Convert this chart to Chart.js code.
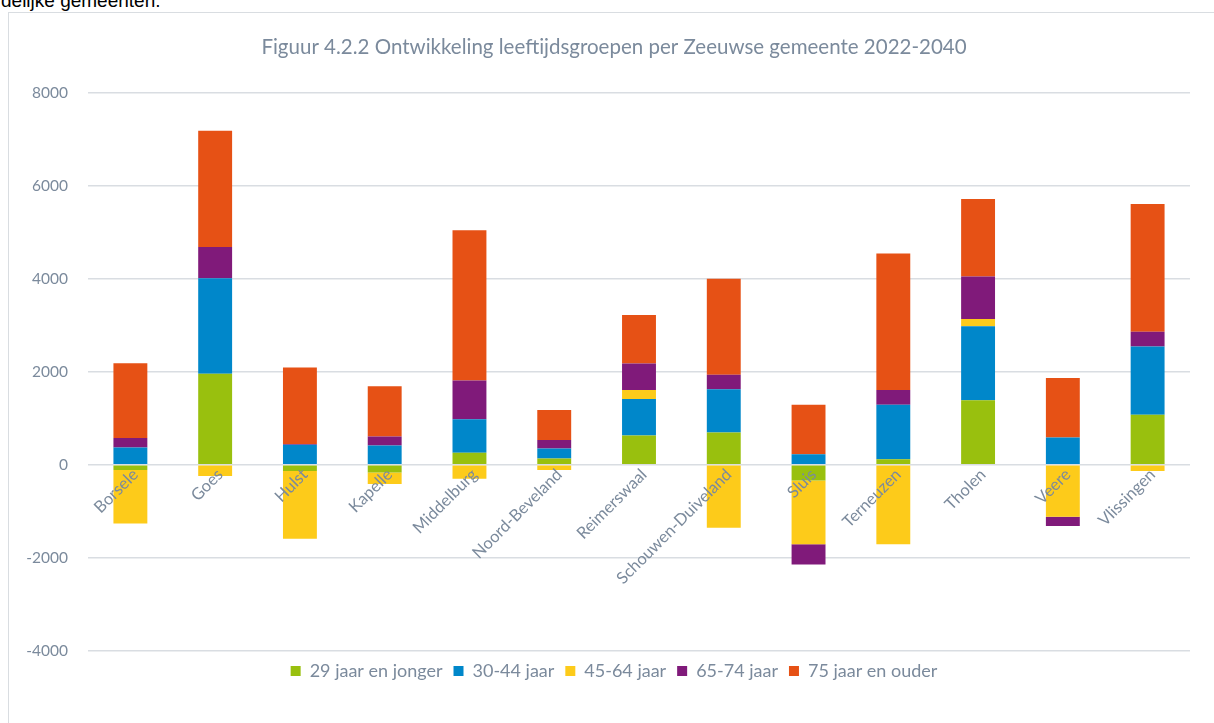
<!DOCTYPE html>
<html>
<head>
<meta charset="utf-8">
<script src="https://cdn.jsdelivr.net/npm/chart.js@4/dist/chart.umd.min.js"></script>
<style>
  html, body { margin: 0; padding: 0; background: #fff; overflow: hidden; }
  body { width: 1214px; height: 723px; position: relative; }
  #intro {
    position: absolute; left: 1px; top: -10px;
    font-family: "Liberation Sans", Arial, sans-serif; font-size: 19px; line-height: 22px; color: #000;
  }
  #frame {
    position: absolute; left: 8px; top: 12px; width: 1220px; height: 720px;
    border-left: 1px solid #d9dde1; border-top: 1px solid #d9dde1;
  }
  #wrap { position: absolute; left: 9px; top: 14px; width: 1205px; height: 709px; }
</style>
</head>
<body>
<div id="intro">delijke gemeenten.</div>
<div id="frame"></div>
<div id="wrap"><canvas id="ageChart"></canvas></div>
<script>
const gemeenten = ["Borsele", "Goes", "Hulst", "Kapelle", "Middelburg", "Noord-Beveland", "Reimerswaal",
  "Schouwen-Duiveland", "Sluis", "Terneuzen", "Tholen", "Veere", "Vlissingen"];
const jonger29 = [-110, 1956, -130, -165, 259, 137, 633, 697, -338, 122, 1388, 0, 1079];
const jaar30_44 = [374, 2056, 430, 417, 719, 215, 783, 928, 230, 1172, 1589, 590, 1466];
const jaar45_64 = [-1150, -240, -1460, -245, -300, -110, 195, -1352, -1366, -1704, 158, -1114, -130];
const jaar65_74 = [201, 669, 16, 194, 834, 180, 568, 309, -439, 317, 913, -202, 317];
const ouder75 = [1611, 2499, 1646, 1079, 3228, 647, 1042, 2064, 1064, 2933, 1668, 1279, 2746];
const yTicks = [-4000, -2000, 0, 2000, 4000, 6000, 8000];

const grey = "#7b8a9c";
const font = "Lato, 'Open Sans', sans-serif";

const series = [
  { label: "29 jaar en jonger", data: jonger29, color: "#99c00e" },
  { label: "30-44 jaar", data: jaar30_44, color: "#0087ca" },
  { label: "45-64 jaar", data: jaar45_64, color: "#fdcb1a" },
  { label: "65-74 jaar", data: jaar65_74, color: "#801a7a" },
  { label: "75 jaar en ouder", data: ouder75, color: "#e65115" }
];

new Chart(document.getElementById("ageChart"), {
  type: "bar",
  data: {
    labels: gemeenten,
    datasets: series.map(s => ({
      label: s.label,
      data: s.data,
      backgroundColor: s.color,
      borderWidth: 0,
      categoryPercentage: 1,
      barPercentage: 0.4
    }))
  },
  options: {
    responsive: true,
    maintainAspectRatio: false,
    animation: false,
    layout: { padding: { left: 16, right: 11, top: 21, bottom: 33 } },
    plugins: {
      title: {
        display: true,
        text: "Figuur 4.2.2 Ontwikkeling leeftijdsgroepen per Zeeuwse gemeente 2022-2040",
        color: grey,
        font: { family: font, size: 20.5, weight: "normal" },
        padding: { top: 0, bottom: 33 }
      },
      legend: {
        position: "bottom",
        labels: {
          color: grey,
          font: { family: font, size: 18 },
          boxWidth: 10,
          boxHeight: 10,
          padding: 11
        }
      },
      tooltip: { enabled: false }
    },
    scales: {
      x: {
        stacked: true,
        position: { y: 0 },
        grid: { display: false },
        border: { display: false },
        ticks: {
          z: 1,
          color: grey,
          font: { family: font, size: 16.5 },
          minRotation: 45,
          maxRotation: 45,
          autoSkip: false,
          padding: -8,
          labelOffset: 5
        },
        afterFit: scale => { scale.height = 0; }
      },
      y: {
        stacked: true,
        min: -4000,
        max: 8000,
        afterBuildTicks: scale => { scale.ticks = yTicks.map(v => ({ value: v })); },
        afterFit: scale => { scale.width = 63; },
        grid: { color: "#d9dde2", lineWidth: 1.5, drawTicks: false },
        border: { display: false },
        ticks: {
          color: grey,
          font: { family: font, size: 15.5 },
          padding: 20,
          callback: v => String(v)
        }
      },
      // empty right-hand axis, only keeps a small margin right of the plot
      yRight: {
        type: "linear",
        position: "right",
        grid: { display: false },
        border: { display: false },
        ticks: { display: false },
        afterFit: scale => { scale.width = 13; }
      }
    }
  }
});
</script>
</body>
</html>
